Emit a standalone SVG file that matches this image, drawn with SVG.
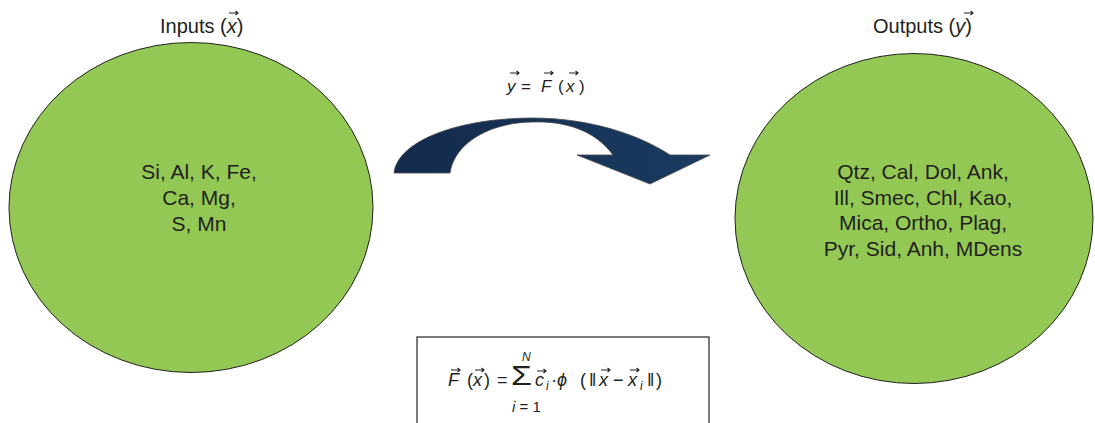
<svg xmlns="http://www.w3.org/2000/svg" xmlns:xlink="http://www.w3.org/1999/xlink" width="1095" height="423" viewBox="0 0 1095 423">
<style>
.t{font-family:"Liberation Sans",Arial,sans-serif;fill:#231f20}
.lbl{font-size:21px;text-anchor:middle}
.ttl{font-size:20px}
.m{font-size:17px}
.f{font-size:18px}
.i{font-style:italic}
.ell{fill:#92c853;stroke:#231f20;stroke-width:1}
.vec{fill:none;stroke:#231f20;stroke-width:1.1}
</style>
<defs>
<g id="vec"><path class="vec" d="M0,0 H9 M6.5,-2 L9,0 L6.5,2"/></g>
<linearGradient id="ag" x1="0" y1="0" x2="1" y2="0">
<stop offset="0" stop-color="#132a4b"/>
<stop offset="1" stop-color="#1b3b62"/>
</linearGradient>
</defs>
<rect width="1095" height="423" fill="#fff"/>

<g id="inputs">
<ellipse class="ell" cx="191" cy="207.5" rx="182" ry="165"/>
<text class="t ttl" x="160" y="33">Inputs (<tspan class="i">x</tspan>)</text>
<use href="#vec" transform="translate(229,13)"/>
<text class="t lbl" x="199" y="179">Si, Al, K, Fe,</text>
<text class="t lbl" x="199" y="205">Ca, Mg,</text>
<text class="t lbl" x="199" y="231">S, Mn</text>
</g>

<g id="outputs">
<ellipse class="ell" cx="914" cy="218.5" rx="179" ry="165"/>
<text class="t ttl" x="873" y="33">Outputs (<tspan class="i">y</tspan>)</text>
<use href="#vec" transform="translate(964,13)"/>
<text class="t lbl" x="923" y="179">Qtz, Cal, Dol, Ank,</text>
<text class="t lbl" x="923" y="205">Ill, Smec, Chl, Kao,</text>
<text class="t lbl" x="923" y="230">Mica, Ortho, Plag,</text>
<text class="t lbl" x="923" y="256">Pyr, Sid, Anh, MDens</text>
</g>

<g id="connectors">
<path d="M394,173 C398,140 460,118 533,118 C590,118 640,135 670,155 L710,155 L650,184 L577,155 L613,155 C595,130 565,121 533,122 C495,122 455,140 450,173 Z" fill="url(#ag)" stroke="#4a4a4a" stroke-width="0.8"/>
<text class="t m" y="92"><tspan class="i" x="507">y</tspan><tspan x="521">=</tspan><tspan class="i" x="541">F</tspan><tspan x="558">(</tspan><tspan class="i" x="566">x</tspan><tspan x="579">)</tspan></text>
<use href="#vec" transform="translate(510,73)"/>
<use href="#vec" transform="translate(544,73)"/>
<use href="#vec" transform="translate(569,73)"/>
</g>

<g id="formula">
<rect x="417" y="337" width="292" height="100" fill="#fff" stroke="#333" stroke-width="1.3"/>
<text class="t f" y="386"><tspan class="i" x="448">F</tspan><tspan x="467">(</tspan><tspan class="i" x="473">x</tspan><tspan x="484">)</tspan><tspan x="497">=</tspan><tspan class="i" x="535">c</tspan><tspan x="551">·</tspan><tspan class="i" x="557">ϕ</tspan><tspan x="580">(</tspan><tspan x="589">‖</tspan><tspan class="i" x="599">x</tspan><tspan x="613">−</tspan><tspan class="i" x="628">x</tspan><tspan x="647">‖</tspan><tspan x="656">)</tspan></text>
<text class="t i" x="546" y="390" font-size="12">i</text>
<text class="t i" x="640" y="390" font-size="12">i</text>
<text class="t" x="511" y="385" font-size="27" textLength="21" lengthAdjust="spacingAndGlyphs">Σ</text>
<text class="t i" x="522" y="361" font-size="12">N</text>
<text class="t" x="512" y="412" font-size="15"><tspan class="i">i</tspan> = 1</text>
<use href="#vec" transform="translate(451,370)"/>
<use href="#vec" transform="translate(475,370)"/>
<use href="#vec" transform="translate(537,371)"/>
<use href="#vec" transform="translate(601,370)"/>
<use href="#vec" transform="translate(630,370)"/>
</g>
</svg>
